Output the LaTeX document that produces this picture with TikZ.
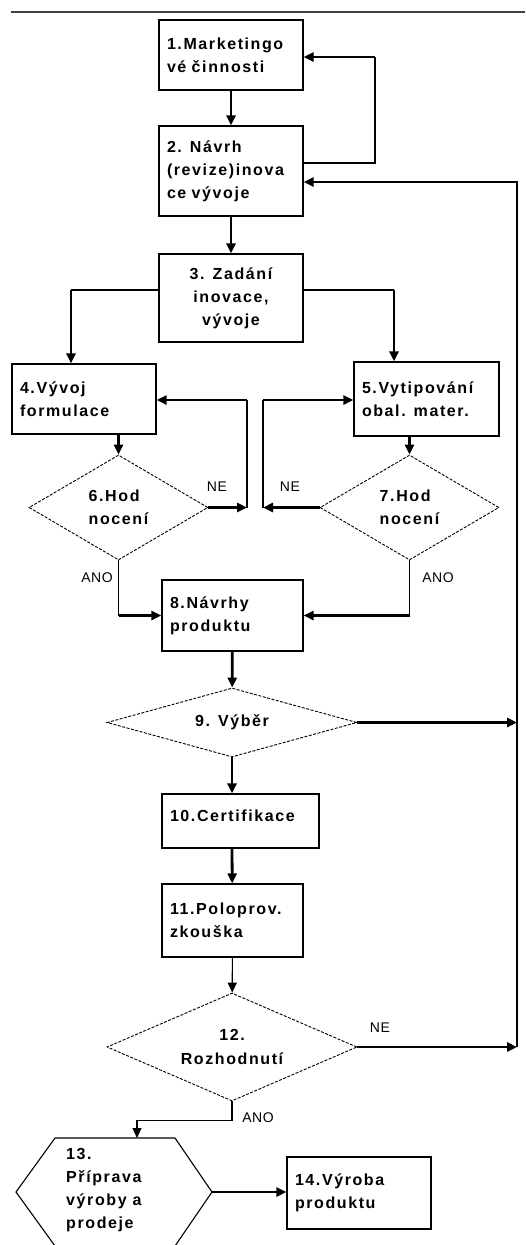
\documentclass[tikz,border=0pt]{standalone}
\usepackage{fontspec}
\newfontfamily\bxfam{Liberation Sans}[LetterSpace=10]
\newfontfamily\lbfam{Liberation Sans}[LetterSpace=4]
\newcommand\myboxfont{\bxfam\bfseries\fontsize{16}{23.2}\selectfont}
\newcommand\mylabfont{\lbfam\fontsize{14}{16}\selectfont}
\usetikzlibrary{arrows.meta,shapes.geometric}
\begin{document}
\begin{tikzpicture}[x=1pt,y=-1pt,
  box/.style={draw, line width=1.1pt, inner xsep=8pt, inner ysep=0pt, align=left, font=\myboxfont, text=black},
  dia/.style={diamond, draw, dash pattern=on 3pt off 1.5pt, line width=0.9pt, inner sep=0pt, font=\myboxfont, text=black},
  lab/.style={font=\mylabfont, inner sep=0pt, text=black},
  thk/.style={line width=2.8pt},
  thn/.style={line width=1.1pt},
  arr/.style={-{Triangle[length=10pt,width=9pt]}}
]
\useasboundingbox (0,0) rectangle (525,1245);
\draw[line width=2.5pt, black!75] (11,12) -- (525,12);

% nodes
\node[box, minimum width=144pt, text width=128pt, minimum height=70pt] (b1) at (231,55) {1.Marketingo\\vé činnosti};
\node[box, minimum width=144pt, text width=128pt, minimum height=90pt] (b2) at (231,171) {2. Návrh\\(revize)inova\\ce vývoje};
\node[box, align=center, minimum width=144pt, text width=128pt, minimum height=88pt] (b3) at (231,298) {3. Zadání\\inovace,\\vývoje};
\node[box, minimum width=144pt, text width=128pt, minimum height=70pt] (b4) at (84,399) {4.Vývoj\\formulace};
\node[box, minimum width=145pt, text width=129pt, minimum height=74pt] (b5) at (426.5,399) {5.Vytipování\\obal. mater.};
\node[dia, aspect=1.7, minimum width=179pt, minimum height=105pt, align=left] (d6) at (118.5,507.5) {6.Hod\\nocení};
\node[dia, aspect=1.7, minimum width=179pt, minimum height=105pt, align=left] (d7) at (409.5,507.5) {7.Hod\\nocení};
\node[box, minimum width=141pt, text width=125pt, minimum height=71pt] (b8) at (232.5,615.5) {8.Návrhy\\produktu};
\node[dia, aspect=3.6, minimum width=250pt, minimum height=69pt, align=center] (d9) at (232,722.5) {9. Výběr};
\node[box, minimum width=157pt, text width=141pt, minimum height=54pt, text depth=10pt] (b10) at (240.5,821) {10.Certifikace};
\node[box, minimum width=141pt, text width=125pt, minimum height=73pt] (b11) at (232.5,920.5) {11.Poloprov.\\zkouška};
\node[dia, aspect=2.3, minimum width=250pt, minimum height=108pt, align=center] (d12) at (232,1047) {12.\\Rozhodnutí};
\coordinate (h13n) at (137,1138);
\coordinate (h13e) at (212,1192);
\draw[line width=1.1pt] (55,1138) -- (175,1138) -- (h13e) -- (175,1246) -- (55,1246) -- (16,1192) -- cycle;
\node[anchor=west, align=left, inner sep=0pt, font=\myboxfont, text=black] (h13) at (66,1190) {13.\\Příprava\\výroby a\\prodeje};
\node[box, minimum width=144pt, text width=128pt, minimum height=72pt] (b14) at (359,1193) {14.Výroba\\produktu};

% labels
\node[lab] (ne6) at (217,487) {NE};
\node[lab] (ne7) at (290,487) {NE};
\node[lab] (ano6) at (97,578) {ANO};
\node[lab] (ano7) at (438,578) {ANO};
\node[lab] (ne12) at (380,1028) {NE};
\node[lab] (ano12) at (258,1118) {ANO};

% connectors
\draw[thk,arr] (b1) -- (b2);
\coordinate (l1) at (375,163);
\coordinate (l2) at (375,57);
\draw[thn] (l1 -| b2.east) -- (l1) -- (l2);
\draw[thk,arr] (l2) -- (l2 -| b1.east);

\coordinate (r1) at (517,182);
\coordinate (r2) at (413,182);
\coordinate (r3) at (517,1047);
\draw[thn] (r3) -- (r1) -- (r2);
\draw[thk,arr] (r2) -- (r2 -| b2.east);

\draw[thk,arr] (b2) -- (b3);
\coordinate (s1) at (71,290);
\coordinate (s2) at (394,290);
\draw[thn] (s1 -| b3.west) -- (s1);
\draw[thk,arr] (s1) -- (s1 |- b4.north);
\draw[thn] (s2 -| b3.east) -- (s2);
\draw[thk,arr] (s2) -- (s2 |- b5.north);

\draw[thk,arr] (d6.north |- b4.south) -- (d6.north);
\draw[thk,arr] (d7.north |- b5.south) -- (d7.north);

\coordinate (v6) at (247,400);
\coordinate (v7) at (263,400);
\draw[thk,arr] (d6.east) -- (d6.east -| v6);
\draw[thn] (d6.east -| v6) -- (v6);
\draw[thk,arr] (v6) -- (v6 -| b4.east);
\draw[thk,arr] (d7.west) -- (d7.west -| v7);
\draw[thn] (d7.west -| v7) -- (v7);
\draw[thk,arr] (v7) -- (v7 -| b5.west);

\draw[thn] (d6.south) -- (d6.south |- b8.west);
\draw[thk,arr] (d6.south |- b8.west) -- (b8.west);
\draw[thn] (d7.south) -- (d7.south |- b8.east);
\draw[thk,arr] (d7.south |- b8.east) -- (b8.east);

\draw[thk,arr] (b8) -- (d9);
\draw[thk,arr] (d9.east) -- (d9.east -| r1);
\draw[thk,arr] (d9) -- (d9.south |- b10.north);
\draw[thk,arr] (b10.south -| d9.south) -- (b11);
\draw[thn,arr] (b11) -- (d12);
\draw[thk,arr] (d12.east) -- (r3);
\draw[thn,arr] (d12.south) -- ++(0,19) -| (h13n);
\draw[thk,arr] (h13e) -- (b14.west |- h13e);
\end{tikzpicture}
\end{document}
